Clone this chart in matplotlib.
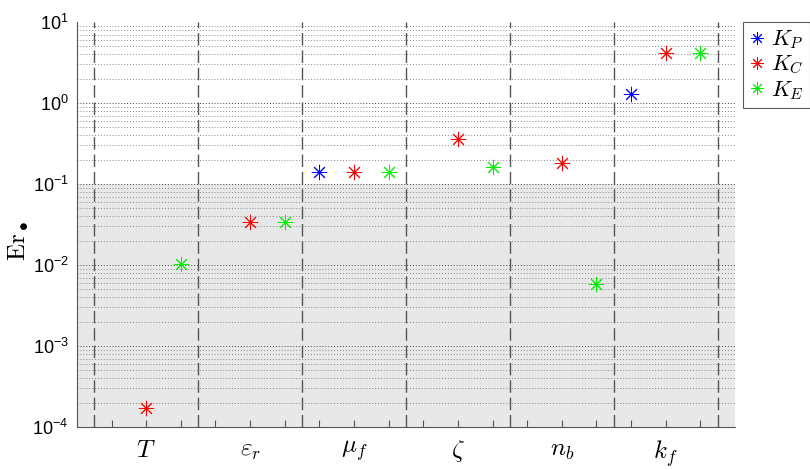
import numpy as np
import matplotlib.pyplot as plt

plt.rcParams['mathtext.fontset'] = 'cm'
plt.rcParams['font.family'] = ['Liberation Sans', 'DejaVu Sans']

params = [r'$T$', r'$\varepsilon_r$', r'$\mu_f$', r'$\zeta$', r'$n_b$', r'$k_f$']
# errors per parameter (nan = not shown)
err_P = [np.nan, np.nan, 0.142, np.nan, np.nan, 1.30]
err_C = [1.7e-4, 0.034, 0.142, 0.36, 0.18, 4.2]
err_E = [0.0103, 0.034, 0.142, 0.162, 0.0058, 4.2]
series = [(r'$K_P$', err_P, '#0000ff'),
          (r'$K_C$', err_C, '#ff0000'),
          (r'$K_E$', err_E, '#00ee00')]

fig = plt.figure(figsize=(8.1, 4.7), dpi=100)
ax = fig.add_axes([0.095, 0.0915, 0.8123, 0.8617])
ax.set_yscale('log')
ax.set_ylim(1e-4, 10)
ax.set_xlim(-1/6, 6 + 1/6)

# shaded zone below 0.1
ax.axhspan(1e-4, 0.1, color='#e8e8e8', zorder=0, lw=0)

# horizontal dotted grid
for d in range(-4, 1):
    for m in range(1, 10):
        v = m * 10.0**d
        if v <= 1e-4:
            continue
        ax.axhline(v, color='#444444' if m == 1 else '#888888', ls=(0, (1, 2)),
                   lw=0.7, zorder=1)
# vertical dashed separators
for k in range(7):
    ax.axvline(k, color='#555555', ls=(0, (9, 3.5)), lw=1.0, zorder=1)

n = len(params)
idx = np.arange(n)
for j, (lab, vals, col) in enumerate(series):
    x = idx + (2 * j + 1) / 6
    ax.plot(x, vals, ls='none', marker=(8, 2, 0), ms=11, mew=0.7,
            color=col, label=lab, zorder=3)

ax.set_xticks(np.sort(np.concatenate([idx + 1/6, idx + 0.5, idx + 5/6])))
labels = []
for i in range(n):
    labels += ['', params[i], '']
ax.set_xticklabels(labels, fontsize=18)
ax.tick_params(axis='x', direction='in', length=5, pad=8, color='#555555')
yt = [10.0**e for e in range(-4, 2)]
ax.set_yticks(yt)
ax.set_yticklabels([r'$\mathregular{10^{%d}}$' % e for e in range(-4, 2)], fontsize=13)
ax.tick_params(axis='y', which='both', direction='in', length=0, pad=6)
ax.minorticks_off()
ax.set_yticks(yt)

for s in ['top', 'right']:
    ax.spines[s].set_visible(False)
for s in ['left', 'bottom']:
    ax.spines[s].set_color('#555555')

ax.set_ylabel(r'$\mathrm{Er}_\bullet$', fontsize=18)
ax.yaxis.set_label_coords(-0.072, 0.46)

leg = ax.legend(loc='upper left', bbox_to_anchor=(1.012, 1.0), fontsize=16,
                frameon=True, fancybox=False, edgecolor='#333333',
                handletextpad=0.25, borderpad=0.3, labelspacing=0.12,
                handlelength=0.7, markerscale=0.8, borderaxespad=0)
leg.get_frame().set_linewidth(0.8)

fig.savefig('out.png', dpi=100)
